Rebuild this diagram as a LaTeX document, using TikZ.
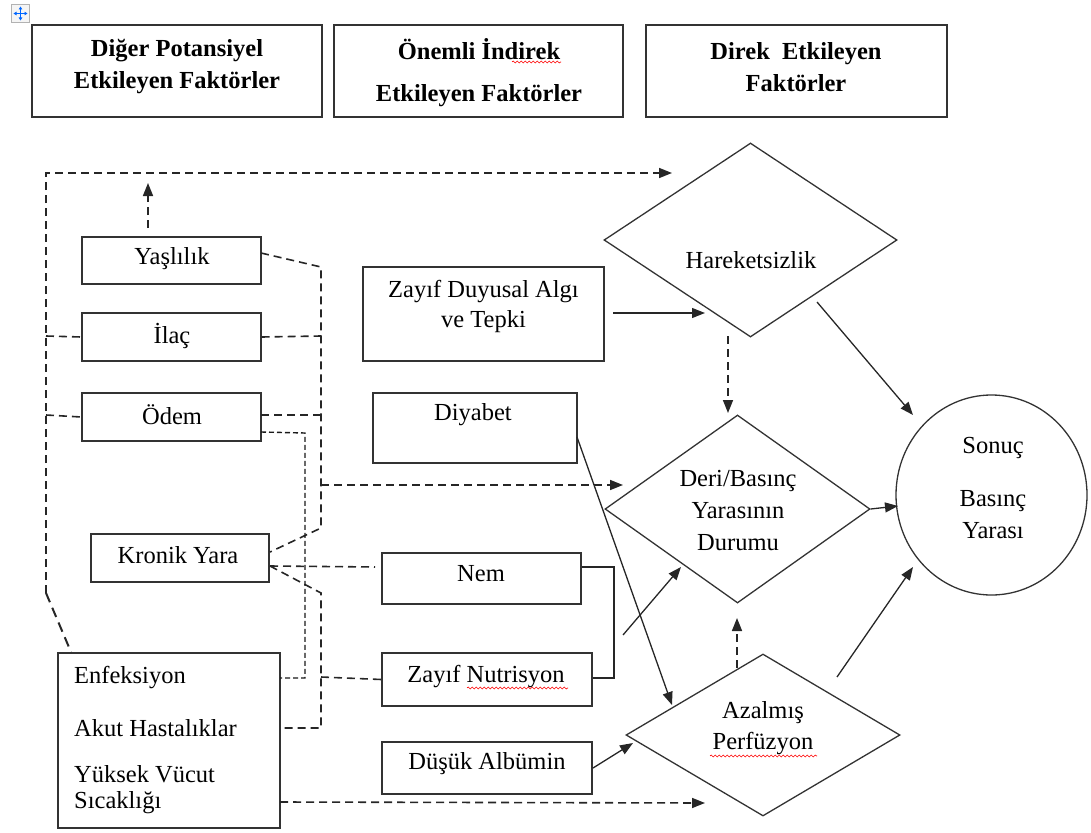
\documentclass[tikz,border=0pt]{standalone}
\usepackage{fontspec}
\setmainfont{Liberation Serif}
\usetikzlibrary{arrows.meta,shapes.geometric,decorations.pathmorphing}
\begin{document}
\begin{tikzpicture}[x=1pt,y=-1pt,
  box/.style={draw=black!80,line width=1.4pt,inner sep=0pt,rectangle},
  dia/.style={draw=black!80,line width=1.3pt,shape=diamond,inner sep=0pt},
  txt/.style={font=\fontsize{24.5}{32}\selectfont,inner sep=0pt,align=center,text=black},
  hd/.style={font=\fontsize{24.5}{32}\selectfont\bfseries,inner sep=0pt,align=center,text=black},
  dl/.style={draw=black!85,line width=1.6pt,dash pattern=on 8pt off 5pt},
  fdl/.style={draw=black!90,line width=1.4pt,dash pattern=on 5pt off 3pt},
  sl/.style={draw=black!85,line width=1.3pt},
  arr/.style={-{Triangle[length=13pt,width=10pt]}},
  squig/.style={draw=red,line width=0.6pt,decorate,decoration={snake,segment length=4pt,amplitude=1pt}}
]
\useasboundingbox (0,0) rectangle (1091,832);

% move handle icon
\node[draw=gray!60,fill=gray!8,minimum size=18pt,inner sep=0pt] (mv) at (20.5,13.5) {};
\draw[blue!60!cyan,line width=1pt,{Triangle[length=3pt,width=3.5pt]}-{Triangle[length=3pt,width=3.5pt]}] ([xshift=-7pt]mv.center) -- ([xshift=7pt]mv.center);
\draw[blue!60!cyan,line width=1pt,{Triangle[length=3pt,width=3.5pt]}-{Triangle[length=3pt,width=3.5pt]}] ([yshift=-7pt]mv.center) -- ([yshift=7pt]mv.center);

% header boxes
\node[box,minimum width=290pt,minimum height=92pt] (h1) at (177,71) {};
\node[hd] (h1t) at (177,67) {Diğer Potansiyel\\Etkileyen Faktörler};
\node[box,minimum width=289pt,minimum height=92pt] (h2) at (478.5,71) {};
\node[hd] (h2t) at (479,73) {Önemli İndirek\\[10pt]Etkileyen Faktörler};
\node[box,minimum width=301pt,minimum height=92pt] (h3) at (796.5,71) {};
\node[hd] (h3t) at (796,67) {Direk\ \ Etkileyen\\Faktörler};
\draw[squig] (512,62) -- (561,62);

% left column boxes
\node[box,minimum width=179pt,minimum height=47pt] (yas) at (171.5,260.5) {};
\node[txt] (yast) at (172,259) {Yaşlılık};
\node[box,minimum width=179pt,minimum height=48pt] (ilac) at (171.5,337) {};
\node[txt] (ilact) at (172,336) {İlaç};
\node[box,minimum width=179pt,minimum height=48pt] (odem) at (171.5,417) {};
\node[txt] (odemt) at (172,415) {Ödem};
\node[box,minimum width=178pt,minimum height=48pt] (kron) at (180,558) {};
\node[txt] (kront) at (178,555) {Kronik Yara};
\node[box,minimum width=222pt,minimum height=175pt] (enf) at (169,740.5) {};
\node[txt,anchor=west] (enf1) at (74,678) {Enfeksiyon};
\node[txt,anchor=west] (enf2) at (74,728) {Akut Hastalıklar};
\node[txt,anchor=west] (enf3) at (74,774) {Yüksek Vücut};
\node[txt,anchor=west] (enf4) at (74,803) {Sıcaklığı};

% middle column boxes
\node[box,minimum width=241pt,minimum height=94pt] (zda) at (483.5,314) {};
\node[txt] (zdat) at (483.5,306) {Zayıf Duyusal Algı\\[-2pt]ve Tepki};
\node[box,minimum width=204pt,minimum height=70pt] (diy) at (475,428) {};
\node[txt] (diyt) at (473,415) {Diyabet};
\node[box,minimum width=199pt,minimum height=51pt] (nem) at (481.5,578.5) {};
\node[txt] (nemt) at (481,574) {Nem};
\node[box,minimum width=210pt,minimum height=53pt] (nut) at (487,679.5) {};
\node[txt] (nutt) at (486,677) {Zayıf Nutrisyon};
\draw[squig] (467,688) -- (568,688);
\node[box,minimum width=210pt,minimum height=52pt] (alb) at (487,768) {};
\node[txt] (albt) at (487,764) {Düşük Albümin};

% diamonds and result
\node[dia,minimum width=293pt,minimum height=194pt] (har) at (750.5,240) {};
\node[txt] (hart) at (751,260) {Hareketsizlik};
\node[dia,minimum width=265pt,minimum height=188pt] (deri) at (737.5,509) {};
\node[txt] (derit) at (738,511) {Deri/Basınç\\Yarasının\\Durumu};
\node[dia,minimum width=274pt,minimum height=162pt] (aza) at (763,735) {};
\node[txt] (azat) at (763,728) {Azalmış\\[-1pt]Perfüzyon};
\draw[squig] (710,756) -- (817,756);
\node[draw=black!80,line width=1.3pt,ellipse,inner sep=0pt,minimum width=191pt,minimum height=200pt] (son) at (991.5,495) {};
\node[txt] (sont) at (993,488) {Sonuç\\[21pt]Basınç\\Yarası};

% coordinates
\coordinate (tl) at (46,173);
\coordinate (bl) at (46,593);
\coordinate (enfTop) at (71,652);
\coordinate (harIn) at (672,173);
\coordinate (yasUp) at (148,228);
\coordinate (yasTip) at (148,183);
\coordinate (yasE) at (261,253);
\coordinate (v1a) at (321,267);
\coordinate (v1b) at (321,528);
\coordinate (kronE1) at (270,552);
\coordinate (kronE2) at (270,566);
\coordinate (v2a) at (321,593);
\coordinate (v2b) at (321,728);
\coordinate (akut) at (280,728);
\coordinate (enfE) at (280,678);
\coordinate (odemE2) at (261,432);
\coordinate (v3a) at (305,433);
\coordinate (v3b) at (305,678);
\coordinate (deriIn) at (623,485);
\coordinate (nemIn) at (375,567);
\coordinate (sicak) at (280,802);
\coordinate (azaIn) at (705,803);

% dashed frame from Enfeksiyon to Hareketsizlik
\draw[dl,arr] (bl) -- (tl) -- (harIn);
\draw[draw=black!85,line width=2pt,dash pattern=on 10pt off 6pt] (bl) -- (enfTop);
\draw[dl] (46,336) -- (ilac.west);
\draw[dl] (46,415) -- (odem.west);
\draw[dl,arr] (yasUp) -- (yasTip);

% outer vertical (x=321), upper part
\draw[dl] (yasE) -- (v1a) -- (v1b) -- (kronE1);
\draw[dl] (ilac.east) -- (321,336);
\draw[dl] (261,415) -- (321,415);
\draw[dl,arr] (321,485) -- (deriIn);

% outer vertical lower part
\draw[dl] (kronE2) -- (v2a) -- (v2b) -- (akut);
\draw[dl] (321,677) -- (nut.west);
\draw[dl] (kronE2) -- (nemIn);

% finer inner line from Ödem to Enfeksiyon
\draw[fdl] (odemE2) -- (v3a) -- (v3b) -- (enfE);

% bottom dashed arrow
\draw[dl,arr] (sicak) -- (azaIn);

% solid connectors
\draw[sl,arr] (613,313) -- (705,313);
\draw[sl,arr] (817,302) -- (913,415);
\draw[dl,arr] (728,336) -- (728,413);
\draw[sl,arr] (deri.east) -- (898,506);
\draw[sl,arr] (577,437) -- (672,705);
\draw[sl] (nem.east |- 0,567) -- (614,567) -- (614,678) -- (nut.east |- 0,678);
\draw[sl,arr] (623,635) -- (681,567);
\draw[sl,arr] (593,768) -- (633,743);
\draw[dl,arr] (737,668) -- (737,618);
\draw[sl,arr] (837,677) -- (913,567);
\end{tikzpicture}
\end{document}
